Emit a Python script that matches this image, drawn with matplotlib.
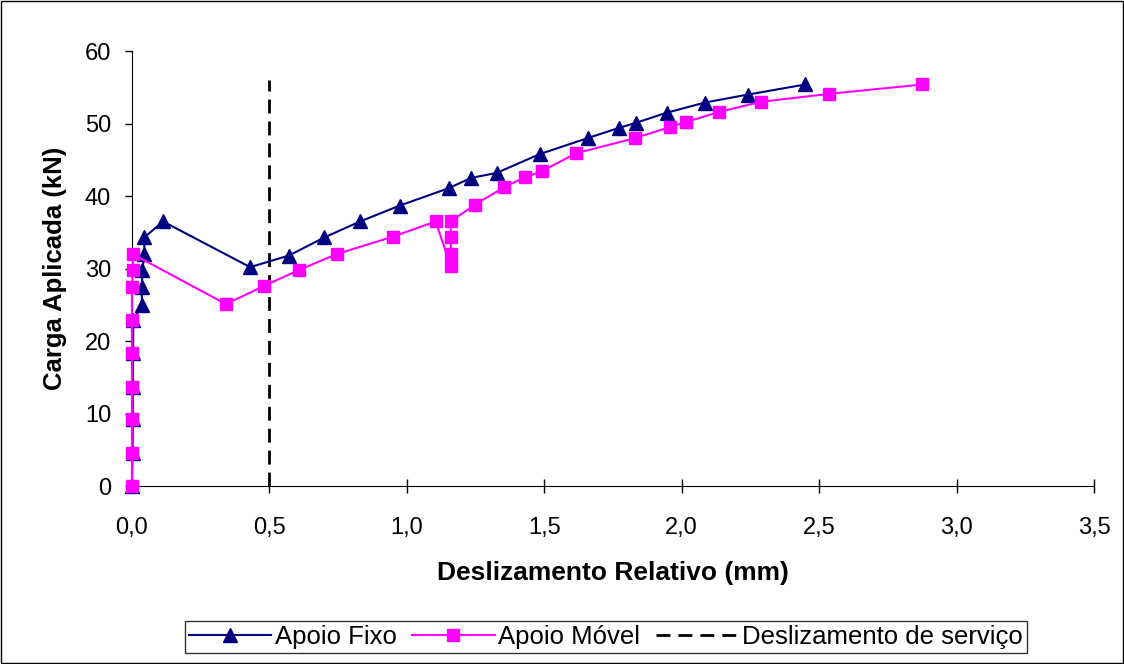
import matplotlib.pyplot as plt
from matplotlib.ticker import FuncFormatter
from matplotlib.patches import Rectangle

plt.rcParams['font.family'] = ['Liberation Sans', 'DejaVu Sans']

# Apoio Fixo (triangulos)
fixo_x = [0.0, 0.002, 0.003, 0.003, 0.004, 0.005, 0.036, 0.036, 0.038, 0.045, 0.045,
          0.113, 0.43, 0.571, 0.70, 0.83, 0.975, 1.153, 1.233, 1.327, 1.484,
          1.658, 1.771, 1.833, 1.945, 2.084, 2.24, 2.45]
fixo_y = [0.0, 4.6, 9.2, 13.7, 18.3, 22.9, 25.0, 27.5, 29.8, 32.0, 34.3,
          36.5, 30.2, 31.8, 34.3, 36.5, 38.7, 41.1, 42.5, 43.2, 45.8,
          48.0, 49.4, 50.1, 51.5, 52.9, 54.0, 55.4]

# Apoio Movel (quadrados)
movel_x = [0.0, 0.0, 0.0, 0.0, 0.0, 0.0, 0.0, 0.003, 0.003,
           0.342, 0.48, 0.607, 0.745, 0.949, 1.105, 1.16, 1.16, 1.16, 1.16,
           1.247, 1.353, 1.43, 1.49, 1.615, 1.83, 1.956, 2.015, 2.135, 2.287,
           2.535, 2.876]
movel_y = [0.0, 4.6, 9.2, 13.7, 18.3, 22.9, 27.5, 29.8, 32.0,
           25.1, 27.6, 29.8, 32.0, 34.4, 36.5, 30.3, 32.0, 34.4, 36.5,
           38.8, 41.2, 42.6, 43.4, 45.9, 48.0, 49.5, 50.2, 51.6, 53.0,
           54.1, 55.4]

# Deslizamento de servico
serv_x = [0.5, 0.5]
serv_y = [0.0, 56.0]

fig = plt.figure(figsize=(11.24, 6.64), dpi=100)
ax = fig.add_axes([0.1174, 0.268, 0.8559, 0.655])

ax.plot(fixo_x, fixo_y, color='#000080', lw=1.5, marker='^', ms=10,
        label='Apoio Fixo', zorder=3, clip_on=False)
ax.plot(movel_x, movel_y, color='#FF00FF', lw=1.5, marker='s', ms=9,
        label='Apoio Móvel', zorder=4, clip_on=False)
ax.plot(serv_x, serv_y, color='black', lw=2, ls=(0, (5, 2.9)),
        label='Deslizamento de serviço', zorder=2)

ax.set_xlim(0, 3.5)
ax.set_ylim(0, 60)
ax.set_xticks([0, 0.5, 1.0, 1.5, 2.0, 2.5, 3.0, 3.5])
ax.set_yticks(range(0, 61, 10))
ax.xaxis.set_major_formatter(FuncFormatter(lambda v, p: f'{v:.1f}'.replace('.', ',')))
ax.tick_params(axis='x', labelsize=17, direction='inout', length=10, width=1, pad=17)
ax.spines['top'].set_visible(False)
ax.spines['right'].set_visible(False)
ax.tick_params(axis='y', labelsize=17, direction='out', length=5, width=1, pad=10)
ax.set_xlabel('Deslizamento Relativo (mm)', fontsize=19, fontweight='bold', labelpad=16)
ax.set_ylabel('Carga Aplicada (kN)', fontsize=18.5, fontweight='bold', labelpad=13)

leg = fig.legend(loc='center', bbox_to_anchor=(0.539, 0.041), ncol=3, fontsize=18.5,
                 frameon=True, fancybox=False, edgecolor='black', handlelength=3.2,
                 handletextpad=0.15, columnspacing=0.6, borderpad=0.15)
leg.get_frame().set_linewidth(1)

fig.patches.append(Rectangle((0.001, 0.001), 0.998, 0.998, transform=fig.transFigure,
                             fill=False, edgecolor='black', lw=1))

fig.savefig('out.png', dpi=100)
